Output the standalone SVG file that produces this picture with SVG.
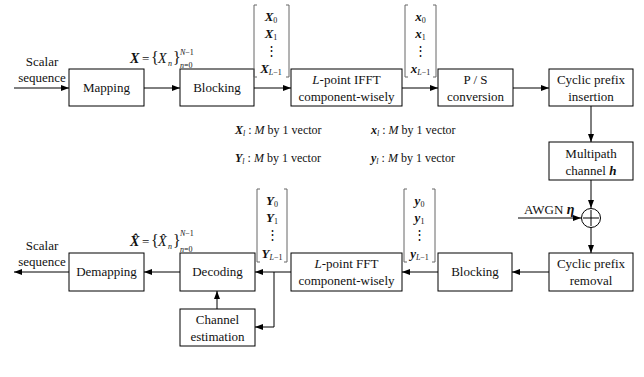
<svg xmlns="http://www.w3.org/2000/svg" width="644" height="377" viewBox="0 0 644 377" font-family="'Liberation Serif', 'Times New Roman', Times, 'DejaVu Serif', serif">
<defs>
<marker id="ah" markerUnits="userSpaceOnUse" markerWidth="9" markerHeight="7" refX="8" refY="3" orient="auto"><path d="M0,0 L8,3 L0,6 z" fill="#000"/></marker>
<style>
text{font-family:'Liberation Serif','Times New Roman',Times,'DejaVu Serif',serif;fill:#111}
.b{fill:#fff;stroke:#000;stroke-width:1}
.t{font-size:13px;text-anchor:middle}
.s{font-size:12px}
.c{fill:none;stroke:#000;stroke-width:1}
.br{fill:none;stroke:#666;stroke-width:1}
.v{font-size:13px;font-weight:bold;font-style:italic;text-anchor:middle}
.sub{font-size:8px;font-weight:normal;font-style:normal}
.subi{font-size:8px;font-weight:normal;font-style:italic}
.dots{font-size:13px;text-anchor:middle}
.bi{font-weight:bold;font-style:italic}
.i{font-style:italic}
</style>
</defs>
<rect width="644" height="377" fill="#fff"/>

<g id="connectors">
<line class="c" x1="14" y1="88" x2="69" y2="88" marker-end="url(#ah)"/>
<line class="c" x1="144" y1="88" x2="180" y2="88" marker-end="url(#ah)"/>
<line class="c" x1="254" y1="88" x2="291" y2="88" marker-end="url(#ah)"/>
<line class="c" x1="402" y1="88" x2="438" y2="88" marker-end="url(#ah)"/>
<line class="c" x1="513" y1="88" x2="549" y2="88" marker-end="url(#ah)"/>
<line class="c" x1="591" y1="106" x2="591" y2="142" marker-end="url(#ah)"/>
<line class="c" x1="591" y1="180" x2="591" y2="208" marker-end="url(#ah)"/>
<line class="c" x1="518" y1="218" x2="581" y2="218" marker-end="url(#ah)"/>
<line class="c" x1="591" y1="227" x2="591" y2="253" marker-end="url(#ah)"/>
<line class="c" x1="549" y1="272" x2="512" y2="272" marker-end="url(#ah)"/>
<line class="c" x1="438" y1="272" x2="402" y2="272" marker-end="url(#ah)"/>
<line class="c" x1="291" y1="272" x2="255" y2="272" marker-end="url(#ah)"/>
<line class="c" x1="180" y1="272" x2="144" y2="272" marker-end="url(#ah)"/>
<line class="c" x1="69" y1="272" x2="14" y2="272" marker-end="url(#ah)"/>
<polyline class="c" points="274,272 274,327 255,327" marker-end="url(#ah)"/>
<line class="c" x1="217" y1="309" x2="217" y2="291" marker-end="url(#ah)"/>
</g>

<g id="input-label">
<text class="t" x="42" y="66">Scalar</text>
<text class="t" x="42" y="82">sequence</text>
</g>
<g id="output-label">
<text class="t" x="42" y="250">Scalar</text>
<text class="t" x="42" y="266">sequence</text>
</g>

<g id="mapping"><rect class="b" x="69" y="69" width="75" height="37"/><text class="t" x="106.5" y="92">Mapping</text></g>
<g id="blocking-tx"><rect class="b" x="180" y="69" width="74" height="37"/><text class="t" x="217" y="92">Blocking</text></g>
<g id="ifft"><rect class="b" x="291" y="69" width="111" height="37"/><text class="t" x="346.5" y="84"><tspan class="i">L</tspan>-point IFFT</text><text class="t" x="346.5" y="101">component-wisely</text></g>
<g id="ps"><rect class="b" x="438" y="69" width="75" height="37"/><text class="t" x="475.5" y="84">P / S</text><text class="t" x="475.5" y="101">conversion</text></g>
<g id="cp-insert"><rect class="b" x="549" y="69" width="84" height="37"/><text class="t" x="591" y="84">Cyclic prefix</text><text class="t" x="591" y="101">insertion</text></g>
<g id="channel"><rect class="b" x="549" y="142" width="84" height="38"/><text class="t" x="591" y="158">Multipath</text><text class="t" x="591" y="175">channel <tspan class="bi">h</tspan></text></g>
<g id="adder"><circle cx="591" cy="218" r="9.5" fill="#fff" stroke="#000" stroke-width="1"/><path d="M591,210 V226 M583,218 H599" stroke="#000" stroke-width="1"/></g>
<g id="awgn"><text x="524" y="214" font-size="13">AWGN <tspan class="bi" font-size="14">η</tspan></text></g>
<g id="cp-remove"><rect class="b" x="549" y="253" width="84" height="38"/><text class="t" x="591" y="268">Cyclic prefix</text><text class="t" x="591" y="285">removal</text></g>
<g id="blocking-rx"><rect class="b" x="438" y="253" width="74" height="38"/><text class="t" x="475" y="276">Blocking</text></g>
<g id="fft"><rect class="b" x="291" y="253" width="111" height="38"/><text class="t" x="346.5" y="268"><tspan class="i">L</tspan>-point FFT</text><text class="t" x="346.5" y="285">component-wisely</text></g>
<g id="decoding"><rect class="b" x="180" y="253" width="75" height="38"/><text class="t" x="217.5" y="276">Decoding</text></g>
<g id="demapping"><rect class="b" x="69" y="253" width="75" height="38"/><text class="t" x="106.5" y="276">Demapping</text></g>
<g id="chest"><rect class="b" x="180" y="309" width="75" height="37"/><text class="t" x="217.5" y="324">Channel</text><text class="t" x="217.5" y="341">estimation</text></g>

<g id="formula-tx">
<text x="130" y="63" font-size="14"><tspan class="bi">X</tspan></text>
<text x="142" y="63" font-size="13">=</text>
<text x="151" y="63" font-size="16" fill="#444">{</text>
<text x="158" y="63" font-size="14" class="i">X</text>
<text x="168" y="66" font-size="8" class="i">n</text>
<text x="173" y="63" font-size="16" fill="#444">}</text>
<text x="180" y="55" font-size="8"><tspan class="i">N</tspan>−1</text>
<text x="180" y="68" font-size="8"><tspan class="i">n</tspan>=0</text>
</g>
<g id="formula-rx">
<text x="130" y="246" font-size="14"><tspan class="bi">X̂</tspan></text>
<text x="142" y="246" font-size="13">=</text>
<text x="151" y="246" font-size="16" fill="#444">{</text>
<text x="158" y="246" font-size="14" class="i">X̂</text>
<text x="168" y="249" font-size="8" class="i">n</text>
<text x="173" y="246" font-size="16" fill="#444">}</text>
<text x="180" y="236" font-size="8"><tspan class="i">N</tspan>−1</text>
<text x="180" y="252" font-size="8"><tspan class="i">n</tspan>=0</text>
</g>

<g id="vec-X">
<path class="br" d="M257,5 H254 V77 H257 M286,5 H289 V77 H286"/>
<text class="v" x="271" y="21">X<tspan class="sub" dy="1.5">0</tspan></text>
<text class="v" x="271" y="38">X<tspan class="sub" dy="1.5">1</tspan></text>
<text class="dots" x="271" y="55">⋮</text>
<text class="v" x="271" y="73">X<tspan class="subi" dy="1.5">L</tspan><tspan class="sub">−1</tspan></text>
</g>
<g id="vec-x">
<path class="br" d="M408,5 H405 V77 H408 M433,5 H436 V77 H433"/>
<text class="v" x="420.5" y="21">x<tspan class="sub" dy="1.5">0</tspan></text>
<text class="v" x="420.5" y="38">x<tspan class="sub" dy="1.5">1</tspan></text>
<text class="dots" x="420.5" y="55">⋮</text>
<text class="v" x="420.5" y="73">x<tspan class="subi" dy="1.5">L</tspan><tspan class="sub">−1</tspan></text>
</g>
<g id="vec-Y">
<path class="br" d="M260,189 H257 V262 H260 M284,189 H287 V262 H284"/>
<text class="v" x="272" y="205">Y<tspan class="sub" dy="1.5">0</tspan></text>
<text class="v" x="272" y="222">Y<tspan class="sub" dy="1.5">1</tspan></text>
<text class="dots" x="272" y="239">⋮</text>
<text class="v" x="272" y="258">Y<tspan class="subi" dy="1.5">L</tspan><tspan class="sub">−1</tspan></text>
</g>
<g id="vec-y">
<path class="br" d="M407,189 H404 V262 H407 M432,189 H435 V262 H432"/>
<text class="v" x="419.5" y="205">y<tspan class="sub" dy="1.5">0</tspan></text>
<text class="v" x="419.5" y="222">y<tspan class="sub" dy="1.5">1</tspan></text>
<text class="dots" x="419.5" y="239">⋮</text>
<text class="v" x="419.5" y="258">y<tspan class="subi" dy="1.5">L</tspan><tspan class="sub">−1</tspan></text>
</g>

<g id="notes">
<text class="s" x="235" y="134"><tspan class="bi">X</tspan><tspan class="subi" dy="2">l</tspan><tspan dy="-2"> : </tspan><tspan class="i">M</tspan> by 1 vector</text>
<text class="s" x="371" y="134"><tspan class="bi">x</tspan><tspan class="subi" dy="2">l</tspan><tspan dy="-2"> : </tspan><tspan class="i">M</tspan> by 1 vector</text>
<text class="s" x="235" y="162"><tspan class="bi">Y</tspan><tspan class="subi" dy="2">l</tspan><tspan dy="-2"> : </tspan><tspan class="i">M</tspan> by 1 vector</text>
<text class="s" x="371" y="162"><tspan class="bi">y</tspan><tspan class="subi" dy="2">l</tspan><tspan dy="-2"> : </tspan><tspan class="i">M</tspan> by 1 vector</text>
</g>
</svg>
